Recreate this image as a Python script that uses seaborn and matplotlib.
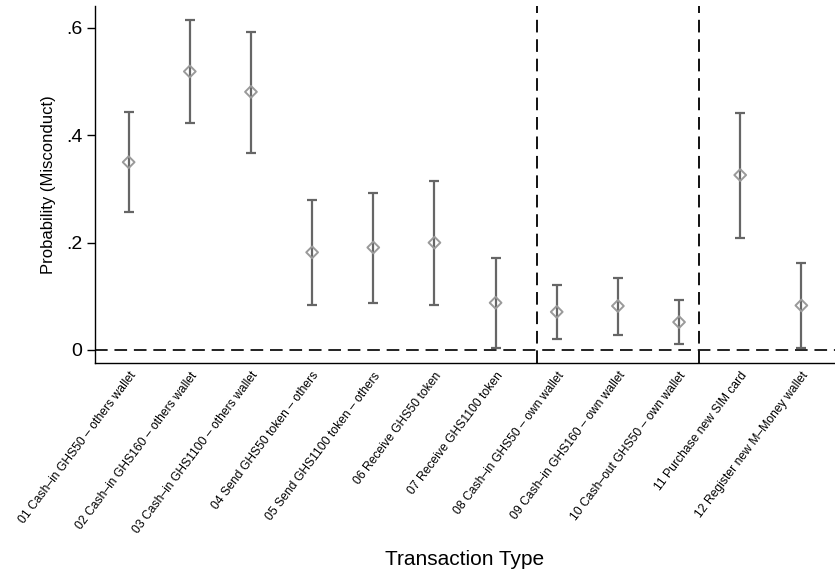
import numpy as np
import pandas as pd
import matplotlib
matplotlib.use('Agg')
import matplotlib.pyplot as plt
import seaborn as sns

labels = [
    '01 Cash\u2013in GHS50 \u2013 others wallet',
    '02 Cash\u2013in GHS160 \u2013 others wallet',
    '03 Cash\u2013in GHS1100 \u2013 others wallet',
    '04 Send GHS50 token \u2013 others',
    '05 Send GHS1100 token \u2013 others',
    '06 Receive GHS50 token',
    '07 Receive GHS1100 token',
    '08 Cash\u2013in GHS50 \u2013 own wallet',
    '09 Cash\u2013in GHS160 \u2013 own wallet',
    '10 Cash\u2013out GHS50 \u2013 own wallet',
    '11 Purchase new SIM card',
    '12 Register new M\u2013Money wallet',
]
prob = [0.350, 0.519, 0.481, 0.182, 0.191, 0.200, 0.088, 0.071, 0.082, 0.052, 0.326, 0.083]
ci_low = [0.258, 0.423, 0.368, 0.084, 0.087, 0.084, 0.004, 0.020, 0.028, 0.011, 0.209, 0.004]
ci_high = [0.443, 0.615, 0.593, 0.280, 0.293, 0.315, 0.172, 0.122, 0.135, 0.094, 0.442, 0.162]
group_breaks = [7.67, 10.33]

df = pd.DataFrame({'pos': np.arange(1, len(labels) + 1), 'label': labels,
                   'prob': prob, 'lo': ci_low, 'hi': ci_high})

sns.set_style('white')
plt.rcParams['font.family'] = ['Liberation Sans', 'DejaVu Sans']

fig = plt.figure(figsize=(8.35, 5.76), dpi=100)
ax = fig.add_axes([0.1138, 0.370, 0.8862, 0.6196])

# confidence intervals
ax.errorbar(df['pos'], df['prob'],
            yerr=[df['prob'] - df['lo'], df['hi'] - df['prob']],
            fmt='none', ecolor='#666666', elinewidth=1.6, capsize=3.8, capthick=1.6, zorder=2)
sns.scatterplot(data=df, x='pos', y='prob', marker='D', s=36, facecolor='none',
                edgecolor='#9a9a9a', linewidth=1.4, ax=ax, zorder=3)

ax.axhline(0, color='#222222', lw=1.4, ls=(0, (6.5, 3.5)), zorder=1)
for b in group_breaks:
    ax.axvline(b, color='#111111', lw=1.4, ls=(0, (6.5, 3.5)), zorder=1)

ax.set_xlim(0.45, 12.55)
ax.set_ylim(-0.024, 0.641)
ax.set_yticks([0, 0.2, 0.4, 0.6])
ax.set_yticklabels(['0', '.2', '.4', '.6'], fontsize=14, color='black')
ax.set_xticks(df['pos'])
ax.set_xticklabels(df['label'], rotation=53, ha='right', rotation_mode='anchor',
                   fontsize=8.7, color='black')
ax.tick_params(axis='y', direction='out', length=6, width=1, left=True, pad=3, color='black')
ax.tick_params(axis='x', length=0, pad=5)

ax.set_ylabel('Probability (Misconduct)', fontsize=12, labelpad=7, color='black')
ax.set_xlabel('Transaction Type', fontsize=15, labelpad=10, color='black')

sns.despine(ax=ax, top=True, right=True)
ax.spines['left'].set_color('black')
ax.spines['bottom'].set_color('black')
ax.spines['left'].set_linewidth(1.0)
ax.spines['bottom'].set_linewidth(1.0)

fig.savefig('out.png', dpi=100)
